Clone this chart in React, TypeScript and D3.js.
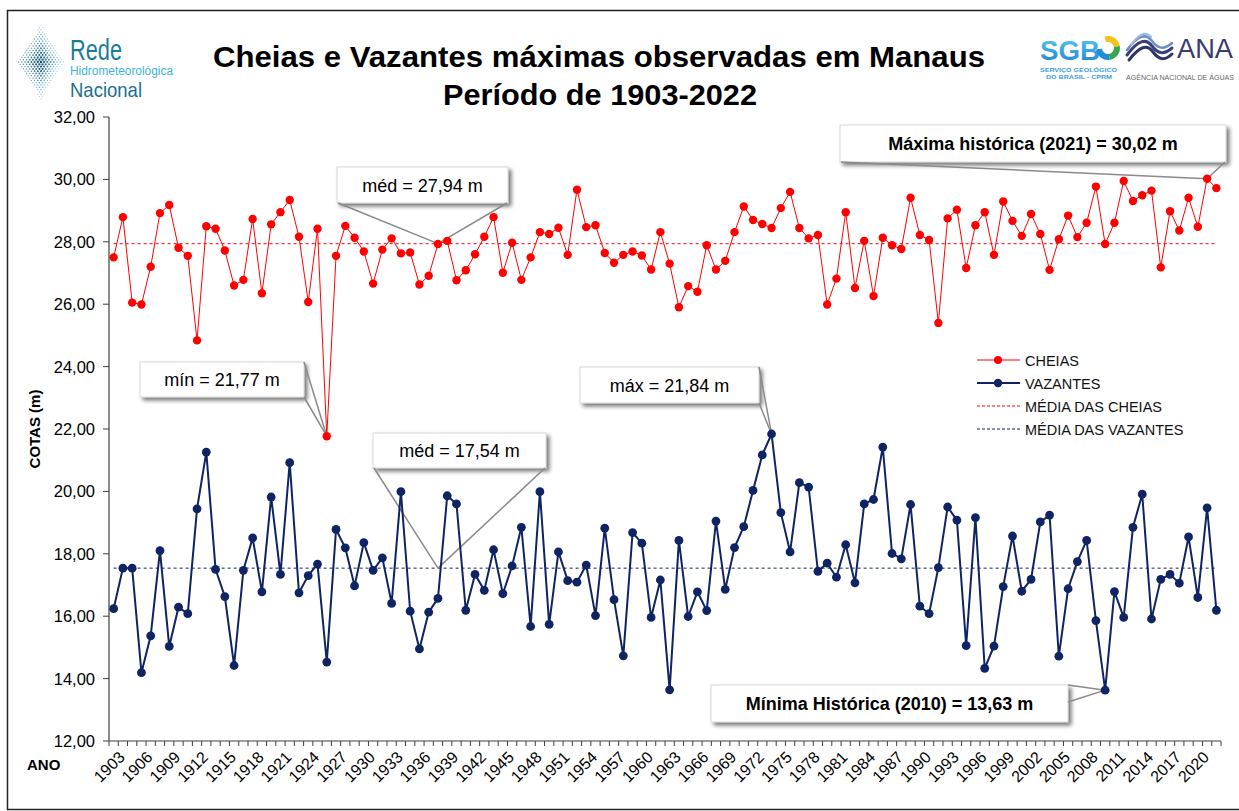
import * as d3 from 'd3';

const START_YEAR = 1903;
const END_YEAR = 2022;
const YEARS = d3.range(START_YEAR, END_YEAR + 1);

// Cota máxima anual (cheias), 1903-2022
const CHEIAS = [
  27.50, 28.79, 26.05, 25.99, 27.20, 28.92, 29.18, 27.81, 27.55, 24.84,
  28.50, 28.42, 27.72, 26.60, 26.78, 28.73, 26.35, 28.56, 28.95, 29.34,
  28.16, 26.07, 28.42, 21.77, 27.55, 28.51, 28.13, 27.69, 26.66, 27.75,
  28.11, 27.63, 27.66, 26.63, 26.91, 27.93, 28.03, 26.77, 27.09, 27.60,
  28.16, 28.79, 27.01, 27.97, 26.78, 27.50, 28.31, 28.25, 28.45, 27.58,
  29.67, 28.47, 28.53, 27.64, 27.33, 27.58, 27.69, 27.56, 27.11, 28.31,
  27.30, 25.90, 26.58, 26.40, 27.89, 27.11, 27.39, 28.31, 29.13, 28.70,
  28.57, 28.44, 29.08, 29.60, 28.44, 28.11, 28.22, 25.99, 26.82, 28.95,
  26.52, 28.03, 26.26, 28.13, 27.89, 27.77, 29.41, 28.22, 28.06, 25.40,
  28.75, 29.03, 27.16, 28.53, 28.95, 27.58, 29.29, 28.67, 28.19, 28.89,
  28.25, 27.10, 28.08, 28.84, 28.15, 28.61, 29.77, 27.93, 28.61, 29.95,
  29.31, 29.49, 29.64, 27.18, 28.98, 28.36, 29.41, 28.48, 30.02, 29.72,
];

// Cota mínima anual (vazantes), 1903-2022
const VAZANTES = [
  16.24, 17.54, 17.54, 14.19, 15.37, 18.10, 15.03, 16.29, 16.08, 19.44,
  21.26, 17.50, 16.63, 14.42, 17.47, 18.51, 16.78, 19.82, 17.34, 20.92,
  16.75, 17.30, 17.67, 14.53, 18.78, 18.19, 16.97, 18.36, 17.47, 17.87,
  16.41, 19.99, 16.16, 14.95, 16.13, 16.57, 19.86, 19.60, 16.19, 17.34,
  16.83, 18.13, 16.72, 17.61, 18.85, 15.67, 19.99, 15.74, 18.06, 17.14,
  17.09, 17.64, 16.02, 18.82, 16.53, 14.73, 18.68, 18.34, 15.96, 17.16,
  13.64, 18.43, 15.99, 16.78, 16.18, 19.05, 16.86, 18.20, 18.87, 20.03,
  21.17, 21.84, 19.32, 18.06, 20.28, 20.14, 17.44, 17.70, 17.25, 18.29,
  17.07, 19.60, 19.74, 21.42, 18.01, 17.84, 19.58, 16.32, 16.08, 17.56,
  19.50, 19.08, 15.06, 19.16, 14.33, 15.04, 16.95, 18.57, 16.80, 17.18,
  19.02, 19.24, 14.72, 16.88, 17.75, 18.43, 15.86, 13.63, 16.79, 15.96,
  18.85, 19.91, 15.91, 17.18, 17.34, 17.06, 18.54, 16.60, 19.47, 16.19,
];

const MEAN_CHEIAS = 27.94;
const MEAN_VAZANTES = 17.54;
const Y_TICKS = [12, 14, 16, 18, 20, 22, 24, 26, 28, 30, 32];
const X_LABEL_YEARS = YEARS.filter((yr) => (yr - START_YEAR) % 3 === 0);
const LEGEND_LABELS = ['CHEIAS', 'VAZANTES', 'MÉDIA DAS CHEIAS', 'MÉDIA DAS VAZANTES'];

const RED = '#ff0000';
const NAVY = '#0f2462';
const FONT = 'Arial, "Liberation Sans", sans-serif';

const W = 1239;
const H = 811;
const L = 109, R = 1221, T = 117, B = 741;

const fmt = (v: number) => d3.format('.2f')(v).replace('.', ',');

// caixas de texto (posição fixa) apontando para um ponto da série
const CALLOUTS = [
  { text: 'méd = 27,94 m', bold: false, box: [337, 167, 171, 36], side: 'bottom', year: 1938, value: MEAN_CHEIAS },
  { text: 'mín = 21,77 m', bold: false, box: [140, 362, 164, 35], side: 'right', year: 1926, value: 21.77 },
  { text: 'méd = 17,54 m', bold: false, box: [373, 433, 173, 35], side: 'bottom', year: 1938, value: MEAN_VAZANTES },
  { text: 'máx = 21,84 m', bold: false, box: [580, 367, 179, 36], side: 'right', year: 1974, value: 21.84 },
  { text: 'Máxima histórica (2021) = 30,02 m', bold: true, box: [840, 125, 386, 37], side: 'bottom', year: 2021, value: 30.02 },
  { text: 'Mínima Histórica (2010) = 13,63 m', bold: true, box: [711, 685, 357, 37], side: 'rightTop', year: 2010, value: 13.63 },
];

function LogoRede() {
  const dots: { x: number; y: number; r: number; c: string }[] = [];
  const cx = 41, cy = 62;
  const color = d3.interpolateRgb('#0a4f6e', '#9fdcef');
  for (let i = -16; i <= 16; i++) {
    for (let j = -16; j <= 16; j++) {
      const x = cx + (i - j) * 1.6;
      const y = cy + (i + j) * 2.3;
      const d = Math.abs(x - cx) / 25 + Math.abs(y - cy) / 37;
      if (d > 1) continue;
      const lean = Math.max(0, Math.min(1, d * 0.9 + (x - cx) / 80));
      dots.push({ x, y, r: 1.25 * (1 - d * 0.55), c: color(lean) });
    }
  }
  return (
    <g>
      {dots.map((p, k) => (
        <circle key={k} cx={p.x} cy={p.y} r={p.r} fill={p.c} />
      ))}
      <text x={70} y={60} fontFamily={FONT} fontSize={29} fill="#1c7b9b" textLength={52} lengthAdjust="spacingAndGlyphs">Rede</text>
      <text x={70} y={75} fontFamily={FONT} fontSize={12} fill="#3cb4d4" textLength={103} lengthAdjust="spacingAndGlyphs">Hidrometeorológica</text>
      <text x={70} y={97} fontFamily={FONT} fontSize={21} fill="#1b6f8e" textLength={72} lengthAdjust="spacingAndGlyphs">Nacional</text>
    </g>
  );
}

function LogoSgbAna() {
  const arc = d3.arc<any>();
  const ringParts = [
    { a0: -0.3, a1: 1.4, c: '#f2c318' },
    { a0: 1.4, a1: 3.0, c: '#3aa64a' },
    { a0: 3.0, a1: 4.6, c: '#1f8fd8' },
  ];
  return (
    <g>
      <defs>
        <linearGradient id="sgbGrad" x1="0" y1="0" x2="0" y2="1">
          <stop offset="0" stopColor="#5cc8f2" />
          <stop offset="1" stopColor="#1a7fd0" />
        </linearGradient>
      </defs>
      <text x={1040} y={60} fontFamily={FONT} fontWeight="bold" fontSize={27} fill="url(#sgbGrad)" textLength={60} lengthAdjust="spacingAndGlyphs">SGB</text>
      {ringParts.map((p, k) => (
        <path key={k} transform="translate(1108,48)"
          d={arc({ innerRadius: 6, outerRadius: 12, startAngle: p.a0, endAngle: p.a1 }) as string}
          fill={p.c} />
      ))}
      <text x={1040} y={72} fontFamily={FONT} fontWeight="bold" fontSize={6} fill="#3aa0dc" textLength={77} lengthAdjust="spacingAndGlyphs">SERVIÇO GEOLÓGICO</text>
      <text x={1046} y={79} fontFamily={FONT} fontWeight="bold" fontSize={6} fill="#3aa0dc" textLength={66} lengthAdjust="spacingAndGlyphs">DO BRASIL - CPRM</text>

      <g fill="none" strokeLinecap="round">
        <path d="M1127,55 C1138,40 1146,38 1152,46 C1158,54 1164,55 1172,48" stroke="#3a3f7a" strokeWidth={3} />
        <path d="M1127,50 C1138,35 1146,33 1152,41 C1158,49 1164,50 1172,43" stroke="#6f8fc4" strokeWidth={2.5} />
        <path d="M1129,60 C1140,46 1147,44 1153,52 C1159,60 1165,61 1172,54" stroke="#2c3468" strokeWidth={3} />
        <path d="M1131,45 C1140,33 1146,31 1151,37" stroke="#9db8de" strokeWidth={2} />
      </g>
      <text x={1177} y={58} fontFamily={FONT} fontSize={28} fill="#393a6e" textLength={56} lengthAdjust="spacingAndGlyphs">ANA</text>
      <text x={1126} y={80} fontFamily={FONT} fontSize={7.5} fill="#666" textLength={108} lengthAdjust="spacingAndGlyphs">AGÊNCIA NACIONAL DE ÁGUAS</text>
    </g>
  );
}

export default function App() {
  const x = d3.scaleBand<number>().domain(YEARS).range([L, R]).padding(0);
  const cx = (yr: number) => (x(yr) as number) + x.bandwidth() / 2;
  const y = d3.scaleLinear().domain([12, 32]).range([B, T]);

  const line = d3.line<number>().x((_, i) => cx(YEARS[i])).y((d) => y(d));

  const boundaries = YEARS.map((yr) => x(yr) as number).concat([R]);

  return (
    <div style={{ position: 'absolute', left: 0, top: 0 }}>
      <svg width={W} height={H} style={{ display: 'block', background: '#fff' }}>
        <defs>
          <filter id="shadow" x="-10%" y="-30%" width="130%" height="180%">
            <feGaussianBlur in="SourceAlpha" stdDeviation="2" />
            <feOffset dx="3" dy="3" result="off" />
            <feComponentTransfer>
              <feFuncA type="linear" slope="0.55" />
            </feComponentTransfer>
            <feMerge>
              <feMergeNode />
              <feMergeNode in="SourceGraphic" />
            </feMerge>
          </filter>
        </defs>

        <rect x={7.5} y={10.5} width={1240} height={799} fill="none" stroke="#222" strokeWidth={1.5} />

        <LogoRede />
        <LogoSgbAna />

        <text x={599} y={67} textAnchor="middle" fontFamily={FONT} fontWeight="bold" fontSize={30} fill="#000"
          textLength={772} lengthAdjust="spacingAndGlyphs">
          Cheias e Vazantes máximas observadas em Manaus
        </text>
        <text x={600} y={105} textAnchor="middle" fontFamily={FONT} fontWeight="bold" fontSize={30} fill="#000"
          textLength={314} lengthAdjust="spacingAndGlyphs">
          Período de 1903-2022
        </text>

        {/* eixo Y */}
        <line x1={L} x2={L} y1={T} y2={B} stroke="#404040" strokeWidth={1.2} />
        {Y_TICKS.map((t) => (
          <g key={t}>
            <line x1={L - 6} x2={L} y1={y(t)} y2={y(t)} stroke="#404040" />
            <text x={95} y={y(t) + 6} textAnchor="end" fontFamily={FONT} fontSize={16.5} fill="#000">
              {fmt(t)}
            </text>
          </g>
        ))}
        <text transform={`translate(40,${(T + B) / 2}) rotate(-90)`} textAnchor="middle" fontFamily={FONT}
          fontWeight="bold" fontSize={15} fill="#000">
          COTAS (m)
        </text>

        {/* eixo X */}
        <line x1={L} x2={R} y1={B} y2={B} stroke="#404040" strokeWidth={1.2} />
        {boundaries.map((bx, i) => (
          <line key={i} x1={bx} x2={bx} y1={B} y2={B + 5} stroke="#404040" />
        ))}
        {X_LABEL_YEARS.map((yr) => (
          <text key={yr} transform={`translate(${cx(yr) + 7},${B + 12}) rotate(-45)`} textAnchor="end"
            dy="0.45em" fontFamily={FONT} fontSize={16} fill="#000">
            {yr}
          </text>
        ))}
        <text x={27} y={770} fontFamily={FONT} fontWeight="bold" fontSize={15} fill="#000">ANO</text>

        {/* médias */}
        <line x1={cx(START_YEAR)} x2={cx(END_YEAR)} y1={y(MEAN_CHEIAS)} y2={y(MEAN_CHEIAS)}
          stroke={RED} strokeWidth={1} strokeDasharray="3,3" />
        <line x1={cx(START_YEAR)} x2={cx(END_YEAR)} y1={y(MEAN_VAZANTES)} y2={y(MEAN_VAZANTES)}
          stroke={NAVY} strokeWidth={1} strokeDasharray="3,3" />

        {/* caixas de destaque */}
        {CALLOUTS.map((c, k) => {
          const [bx, by, bw, bh] = c.box;
          const tx = cx(c.year);
          const ty = y(c.value);
          const base =
            c.side === 'bottom'
              ? [[bx + 1, by + bh], [bx + bw - 1, by + bh]]
              : c.side === 'right'
              ? [[bx + bw, by], [bx + bw, by + bh]]
              : [[bx + bw, by], [bx + bw, by + 17]];
          return (
            <g key={k}>
              <rect x={bx} y={by} width={bw} height={bh} fill="#fff" stroke="#d0d0d0" strokeWidth={0.8}
                filter="url(#shadow)" />
              {base.map((p, j) => (
                <line key={j} x1={p[0]} y1={p[1]} x2={tx} y2={ty} stroke="#8a8a8a" strokeWidth={1.5} />
              ))}
              <text x={bx + bw / 2} y={by + bh / 2 + 6.5} textAnchor="middle" fontFamily={FONT}
                fontWeight={c.bold ? 'bold' : 'normal'} fontSize={18} fill="#000">
                {c.text}
              </text>
            </g>
          );
        })}

        {/* séries */}
        <path d={line(CHEIAS) as string} fill="none" stroke={RED} strokeWidth={1} />
        {CHEIAS.map((v, i) => (
          <circle key={i} cx={cx(YEARS[i])} cy={y(v)} r={4.2} fill={RED} />
        ))}
        <path d={line(VAZANTES) as string} fill="none" stroke={NAVY} strokeWidth={2} />
        {VAZANTES.map((v, i) => (
          <circle key={i} cx={cx(YEARS[i])} cy={y(v)} r={4.4} fill={NAVY} />
        ))}

        {/* legenda */}
        {LEGEND_LABELS.map((lab, i) => {
          const ly = 360 + i * 23;
          const col = i % 2 === 0 ? RED : NAVY;
          return (
            <g key={lab}>
              {i < 2 ? (
                <>
                  <line x1={977} x2={1020} y1={ly} y2={ly} stroke={col} strokeWidth={i === 0 ? 1 : 2} />
                  <circle cx={998} cy={ly} r={i === 0 ? 4 : 4.2} fill={col} />
                </>
              ) : (
                <line x1={977} x2={1020} y1={ly} y2={ly} stroke={col} strokeWidth={1} strokeDasharray="3,2" />
              )}
              <text x={1025} y={ly + 5.5} fontFamily={FONT} fontSize={14.5} fill="#111">
                {lab}
              </text>
            </g>
          );
        })}
      </svg>
    </div>
  );
}
